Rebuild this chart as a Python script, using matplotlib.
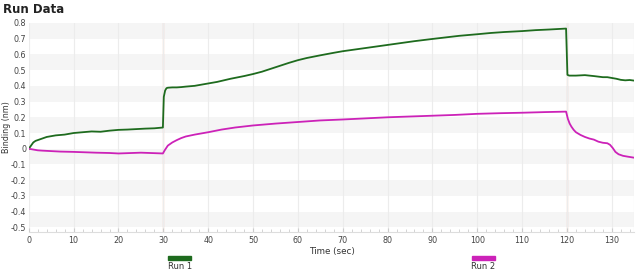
import matplotlib
matplotlib.use('Agg')
import matplotlib.pyplot as plt
from matplotlib.patches import Rectangle
from matplotlib.ticker import MultipleLocator, FuncFormatter

# run 1 (green)
t1 = [0, 0.5, 1, 1.5, 2, 3, 4, 5, 6, 8, 10, 12, 14, 16, 18, 20, 22, 24, 26, 28, 29.9,
      30.1, 30.4, 30.7, 31, 32, 33, 34, 35, 37, 40, 42, 45, 48, 50, 52, 55, 58, 60, 62,
      65, 68, 70, 72, 75, 78, 80, 83, 86, 90, 93, 96, 100, 103, 106, 110, 113, 116, 119.8,
      120.1, 120.5, 122, 124, 126, 128, 129, 130, 131, 132, 133, 134, 135]
v1 = [0, 0.02, 0.04, 0.05, 0.055, 0.065, 0.075, 0.08, 0.085, 0.09, 0.1, 0.105, 0.11, 0.108,
      0.115, 0.12, 0.122, 0.125, 0.128, 0.13, 0.135,
      0.33, 0.37, 0.385, 0.388, 0.39, 0.39, 0.392, 0.395, 0.4, 0.415, 0.425, 0.445, 0.462, 0.475,
      0.49, 0.518, 0.546, 0.563, 0.577, 0.594, 0.61, 0.62, 0.628, 0.64, 0.652, 0.66, 0.672, 0.684,
      0.698, 0.708, 0.718, 0.728, 0.736, 0.742, 0.748, 0.754, 0.758, 0.764,
      0.47, 0.465, 0.465, 0.468, 0.462, 0.455, 0.455, 0.45, 0.445, 0.438, 0.435, 0.437, 0.433]

# run 2 (magenta)
t2 = [0, 1, 2, 3, 5, 7, 10, 12, 15, 18, 20, 22, 25, 28, 29.9, 30.3, 31, 32, 33, 34, 35, 37,
      40, 43, 46, 50, 55, 60, 65, 70, 75, 80, 85, 90, 95, 100, 105, 110, 115, 119.8,
      120.2, 120.6, 121, 121.5, 122, 123, 124, 125, 126, 127, 128, 129, 129.6, 130.2, 130.8,
      131.5, 132.5, 133.5, 135]
v2 = [0, -0.005, -0.01, -0.012, -0.015, -0.018, -0.02, -0.022, -0.025, -0.027, -0.03, -0.028,
      -0.025, -0.028, -0.03, -0.01, 0.02, 0.04, 0.055, 0.068, 0.078, 0.09, 0.105, 0.122, 0.135,
      0.148, 0.16, 0.17, 0.18, 0.186, 0.193, 0.2, 0.205, 0.21, 0.215, 0.222, 0.226, 0.229, 0.233,
      0.236, 0.19, 0.16, 0.14, 0.12, 0.105, 0.088, 0.075, 0.065, 0.058, 0.045, 0.038, 0.035,
      0.025, 0.005, -0.02, -0.035, -0.045, -0.05, -0.057]

steps = [30, 120]
runs = ['Run 1', 'Run 2']
colors = ['#1e6b1e', '#cc22b8']

fig = plt.figure(figsize=(6.4, 2.76), dpi=100)
ax = fig.add_axes([0.045, 0.159, 0.946, 0.758])

ax.set_xlim(0, 135)
ax.set_ylim(-0.53, 0.8)

# alternating bands
for lo in [0.7, 0.5, 0.3, 0.1, -0.1, -0.3, -0.5]:
    ax.axhspan(lo, lo + 0.1, color='#f5f5f5', zorder=0, lw=0)
ax.xaxis.set_major_locator(MultipleLocator(10))
ax.xaxis.set_minor_locator(MultipleLocator(2))
ax.yaxis.set_major_locator(MultipleLocator(0.1))
ax.yaxis.set_major_formatter(FuncFormatter(lambda v, p: f'{round(v, 1):g}' if abs(v) > 1e-9 else '0'))
ax.grid(axis='x', which='major', color='#ececec', lw=0.8, zorder=0)

for s in steps:
    ax.axvline(s, color='#eab9a6', lw=0.9, zorder=1)
ax.axvline(135, color='#e4e4e4', lw=0.8, zorder=1)

ax.plot(t1, v1, color=colors[0], lw=1.3, zorder=3)
ax.plot(t2, v2, color=colors[1], lw=1.3, zorder=3)

for sp in ax.spines.values():
    sp.set_visible(False)
ax.spines['bottom'].set_visible(True)
ax.spines['bottom'].set_color('#dddddd')
ax.tick_params(axis='both', labelsize=5.8, colors='#444444', length=0, pad=3)
ax.tick_params(axis='y', pad=2)
ax.tick_params(axis='x', which='minor', length=2, color='#cccccc', direction='in')
ax.tick_params(axis='x', which='major', length=3, color='#cccccc', direction='in')
ax.set_xlabel('Time (sec)', fontsize=6.3, color='#333333', labelpad=1)
ax.set_ylabel('Binding (nm)', fontsize=5.8, color='#333333')
ax.yaxis.set_label_coords(-0.029, 0.5)

fig.text(0.005, 0.965, 'Run Data', fontsize=8.5, fontweight='bold', color='#222222', va='center')

# legend below
for name, c, xc in zip(runs, colors, [0.281, 0.755]):
    fig.patches.append(Rectangle((xc - 0.018, 0.058), 0.036, 0.014, color=c, transform=fig.transFigure))
    fig.text(xc, 0.033, name, fontsize=6, color='#333333', ha='center', va='center')

fig.savefig('out.png', dpi=100)
